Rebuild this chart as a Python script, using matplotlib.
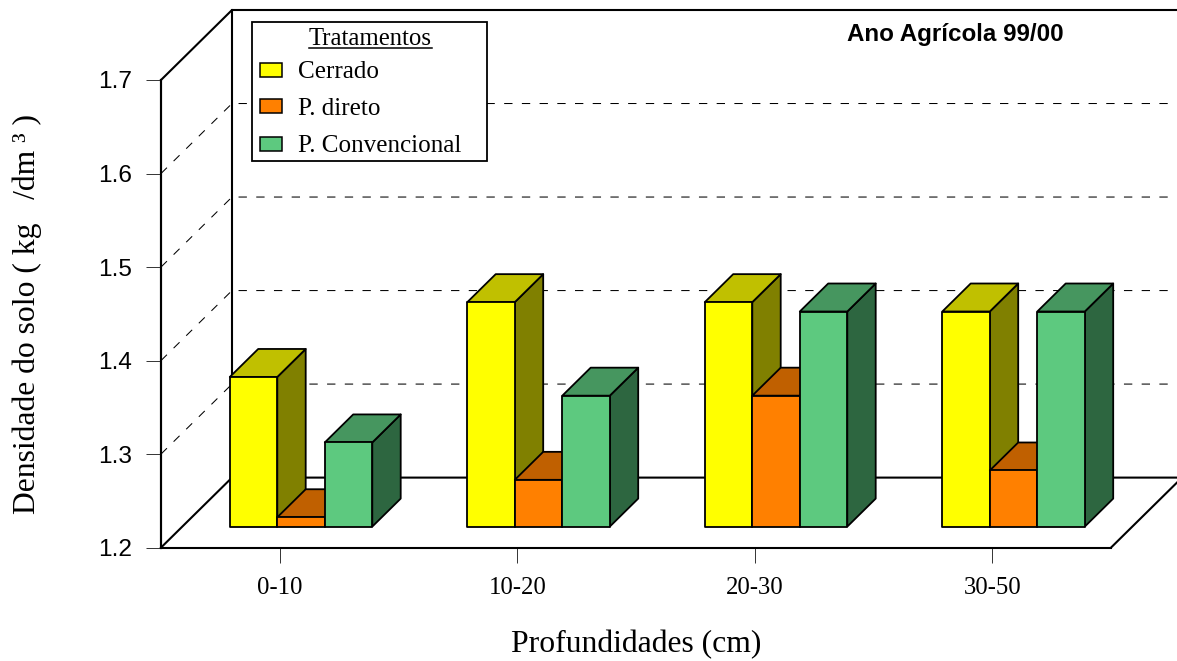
import matplotlib
matplotlib.use("Agg")
import matplotlib.pyplot as plt
from matplotlib.patches import Polygon, Rectangle

categories = ["0-10", "10-20", "20-30", "30-50"]
cerrado = [1.36, 1.44, 1.44, 1.43]
p_direto = [1.21, 1.25, 1.34, 1.26]
p_convencional = [1.29, 1.34, 1.43, 1.43]
series_names = ["Cerrado", "P. direto", "P. Convencional"]
y_ticks = [1.2, 1.3, 1.4, 1.5, 1.6, 1.7]

W, H = 1177, 661
AX_L, AX_R, AX_T, AX_B = 161, 1111, 80, 547.6
X0, X1, Y0, Y1 = -0.5, 3.5, 1.2, 1.7
DEPTH_X = 71 / ((AX_R - AX_L) / (X1 - X0))
DEPTH_Y = 70 / ((AX_B - AX_T) / (Y1 - Y0))
BAR_W = 0.2
Z0, Z1 = 0.3, 0.7

FRONT = ["#FFFF00", "#FF8000", "#5DC97F"]
TOP = ["#C0C000", "#C06000", "#46965F"]
SIDE = ["#808000", "#804000", "#2D6640"]
SERIF = "Liberation Serif"
SANS = "Liberation Sans"

fig = plt.figure(figsize=(W / 100, H / 100), dpi=100, facecolor="white")
ax = fig.add_axes([AX_L / W, 1 - AX_B / H, (AX_R - AX_L) / W, (AX_B - AX_T) / H])
ax.set_xlim(X0, X1)
ax.set_ylim(Y0, Y1)
ax.patch.set_visible(False)


def proj(x, v, z):
    return (x + z * DEPTH_X, v + z * DEPTH_Y)


# Back wall and floor
wall = dict(color="black", lw=1.5, clip_on=False, solid_capstyle="projecting", zorder=1)
ax.plot(*zip(proj(X0, Y0, 0), proj(X0, Y1, 0)), **wall)
ax.plot(*zip(proj(X0, Y1, 0), proj(X0, Y1, 1), proj(X1, Y1, 1)), **wall)
ax.plot(*zip(proj(X0, Y1, 1), proj(X0, Y0, 1), proj(X1, Y0, 1), proj(X1, Y0, 0)), **wall)
ax.plot(*zip(proj(X0, Y0, 0), proj(X0, Y0, 1)), **wall)

# Dashed gridlines
for t in y_ticks[1:-1]:
    ax.plot(*zip(proj(X0, t, 0), proj(X0, t, 1), proj(X1, t, 1)), color="black", lw=0.75,
            dashes=(8, 9), clip_on=False, zorder=1)

# Bars
series = [cerrado, p_direto, p_convencional]
edge = dict(edgecolor="black", lw=1.3, clip_on=False, joinstyle="round", zorder=3)
for i in range(len(categories)):
    for j, vals in enumerate(series):
        v = vals[i]
        xl = i + (j - 1.5) * BAR_W
        xr = xl + BAR_W
        ax.add_patch(Polygon([proj(xr, Y0, Z0), proj(xr, v, Z0), proj(xr, v, Z1), proj(xr, Y0, Z1)],
                             facecolor=SIDE[j], **edge))
        ax.add_patch(Polygon([proj(xl, v, Z0), proj(xr, v, Z0), proj(xr, v, Z1), proj(xl, v, Z1)],
                             facecolor=TOP[j], **edge))
        ax.add_patch(Polygon([proj(xl, Y0, Z0), proj(xr, Y0, Z0), proj(xr, v, Z0), proj(xl, v, Z0)],
                             facecolor=FRONT[j], **edge))

# Axes furniture
for s in ("top", "right"):
    ax.spines[s].set_visible(False)
for s in ("left", "bottom"):
    ax.spines[s].set_linewidth(1.5)
    ax.spines[s].set_zorder(2)
ax.set_xticks(range(len(categories)))
ax.set_xticklabels(categories, fontfamily=SERIF, fontsize=17.8)
ax.set_yticks(y_ticks)
ax.set_yticklabels([f"{t:.1f}" for t in y_ticks], fontfamily=SANS, fontsize=17.6)
ax.tick_params(axis="x", length=11, width=0.7, pad=10, color="#333333")
ax.tick_params(axis="y", length=11, width=0.7, pad=10, color="#333333")
ax.set_xlabel("Profundidades (cm)", fontfamily=SERIF, fontsize=22.8, va="baseline")
ax.xaxis.set_label_coords((636.5 - AX_L) / (AX_R - AX_L), -(652 - AX_B) / (AX_B - AX_T), transform=ax.transAxes)
ax.set_ylabel("Densidade do solo ( kg   /dm ³ )", fontfamily=SERIF, fontsize=22.8, va="baseline")
ax.yaxis.set_label_coords((35 - AX_L) / (AX_R - AX_L), (AX_B - 314.5) / (AX_B - AX_T), transform=ax.transAxes)

# Title
fig.text(955 / W, 1 - 41 / H, "Ano Agrícola 99/00", family=SANS, weight="bold", fontsize=17.4,
         ha="center", va="baseline")

# Legend
fig.add_artist(Rectangle((252 / W, 1 - 161 / H), 235 / W, 139 / H, transform=fig.transFigure,
                         facecolor="white", edgecolor="black", lw=1.3, zorder=5))
fig.text(370.5 / W, 1 - 45 / H, "Tratamentos", family=SERIF, fontsize=17.8, ha="center",
         va="baseline", zorder=6)
fig.add_artist(plt.Line2D([309 / W, 432 / W], [1 - 48 / H, 1 - 48 / H], transform=fig.transFigure,
                          color="black", lw=1.1, zorder=6))
for name, color, yc, base in zip(series_names, FRONT, [69.5, 106, 143.5], [78, 115, 152]):
    fig.add_artist(Rectangle((260 / W, 1 - (yc + 7) / H), 22 / W, 14 / H, transform=fig.transFigure,
                             facecolor=color, edgecolor="black", lw=1.1, zorder=6))
    fig.text(298 / W, 1 - base / H, name, family=SERIF, fontsize=18.1, ha="left",
             va="baseline", zorder=6)

fig.savefig("out.png", dpi=100)
